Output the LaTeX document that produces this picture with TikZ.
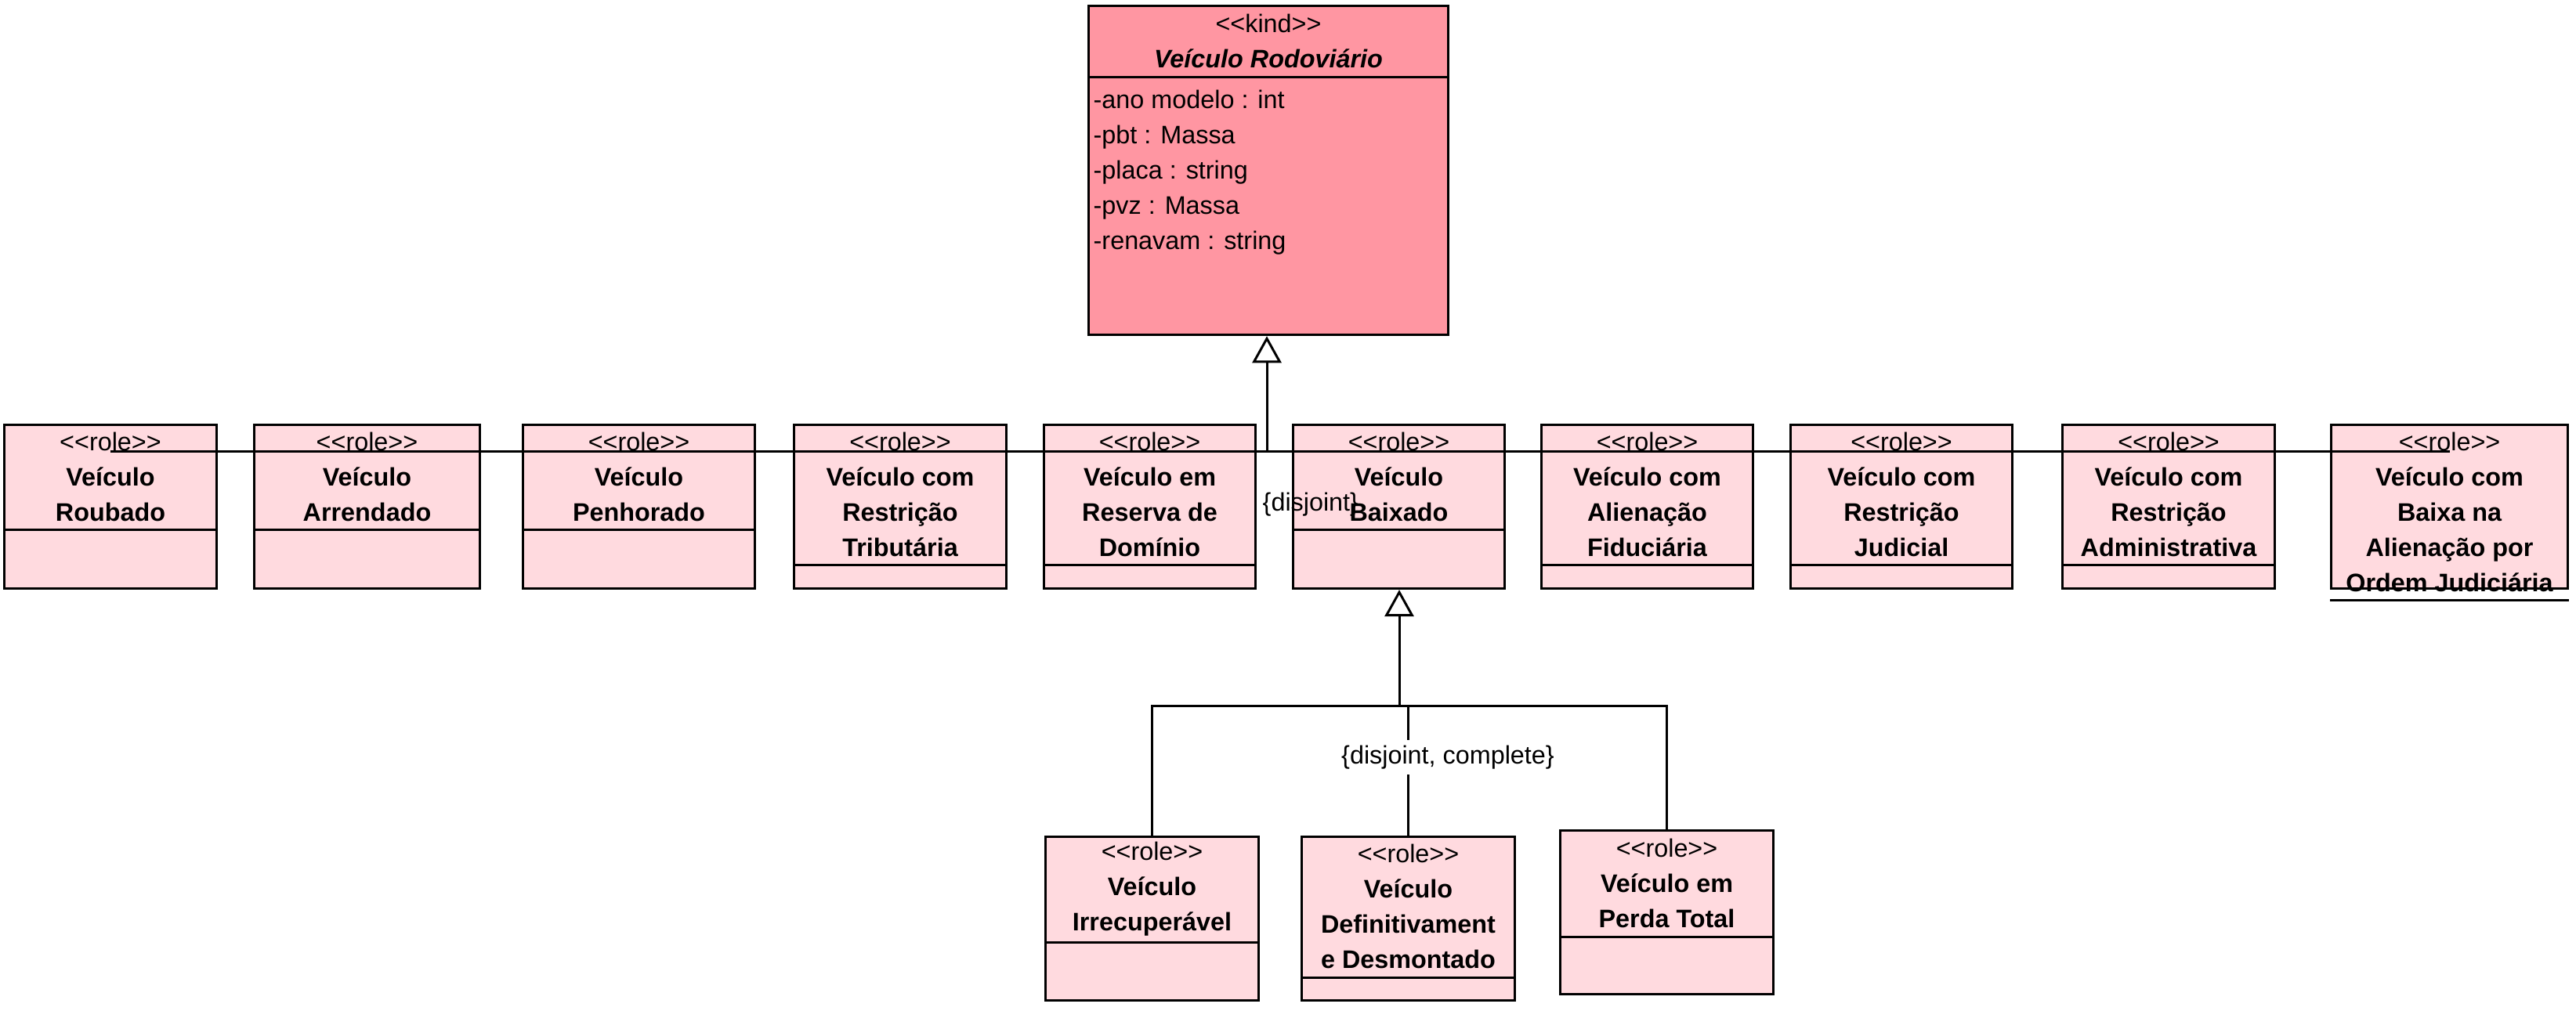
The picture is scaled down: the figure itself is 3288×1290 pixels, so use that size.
\documentclass[tikz,border=0pt]{standalone}
\usepackage{fontspec}
\setmainfont{Liberation Sans}
\usetikzlibrary{arrows.meta}

\definecolor{kindpink}{RGB}{255,150,162}
\definecolor{rolepink}{RGB}{255,218,223}

% stereotypes (kern keeps << >> from turning into guillemets)
\newcommand{\kindst}{<\kern0pt<kind>\kern0pt>}
\newcommand{\rolest}{\textmd{<\kern0pt<role>\kern0pt>}}

\tikzset{
  umltext/.style={font=\fontsize{9.2pt}{12.8pt}\selectfont, inner sep=0pt},
  umlline/.style={line width=0.85pt},
  kindbox/.style={draw, umlline, fill=kindpink, anchor=north, inner sep=0pt},
  rolebox/.style={draw, umlline, fill=rolepink, anchor=north, inner sep=0pt, minimum height=2.09cm},
  rolename/.style={umltext, font=\fontsize{9.2pt}{12.8pt}\selectfont\bfseries, anchor=north, align=center, minimum height=#1},
  gen/.style={umlline, line join=miter, -{Triangle[open, length=0.34cm, width=0.37cm]}}
}

\begin{document}
\begin{tikzpicture}[x=0.01cm, y=-0.01cm]

  \useasboundingbox (0,0) rectangle (3288,1290);

  % kind
  \node[kindbox, minimum width=4.58cm, minimum height=4.20cm] (kind) at (1619,6) {};
  \node[umltext, anchor=north, align=center, minimum height=0.91cm] (kindn) at (kind.north)
    {\kindst\\\textbf{\textit{Veículo Rodoviário}}};
  \draw[umlline] (kind.west |- kindn.south) -- (kind.east |- kindn.south);
  \node[umltext, anchor=west, align=left] (kinda) at (1395,220)
    {-ano modelo : int\\-pbt : Massa\\-placa : string\\-pvz : Massa\\-renavam : string};

  % roles, upper row
  \node[rolebox, minimum width=2.70cm] (r1) at (141,541) {};
  \node[rolename=1.34cm] (r1n) at (r1.north) {\rolest\\Veículo\\Roubado};
  \draw[umlline] (r1.west |- r1n.south) -- (r1.east |- r1n.south);

  \node[rolebox, minimum width=2.87cm] (r2) at (468.5,541) {};
  \node[rolename=1.34cm] (r2n) at (r2.north) {\rolest\\Veículo\\Arrendado};
  \draw[umlline] (r2.west |- r2n.south) -- (r2.east |- r2n.south);

  \node[rolebox, minimum width=2.95cm] (r3) at (815.5,541) {};
  \node[rolename=1.34cm] (r3n) at (r3.north) {\rolest\\Veículo\\Penhorado};
  \draw[umlline] (r3.west |- r3n.south) -- (r3.east |- r3n.south);

  \node[rolebox, minimum width=2.70cm] (r4) at (1149,541) {};
  \node[rolename=1.79cm] (r4n) at (r4.north) {\rolest\\Veículo com\\Restrição\\Tributária};
  \draw[umlline] (r4.west |- r4n.south) -- (r4.east |- r4n.south);

  \node[rolebox, minimum width=2.69cm] (r5) at (1467.5,541) {};
  \node[rolename=1.79cm] (r5n) at (r5.north) {\rolest\\Veículo em\\Reserva de\\Domínio};
  \draw[umlline] (r5.west |- r5n.south) -- (r5.east |- r5n.south);

  \node[rolebox, minimum width=2.69cm] (r6) at (1785.5,541) {};
  \node[rolename=1.34cm] (r6n) at (r6.north) {\rolest\\Veículo\\Baixado};
  \draw[umlline] (r6.west |- r6n.south) -- (r6.east |- r6n.south);

  \node[rolebox, minimum width=2.69cm] (r7) at (2102.5,541) {};
  \node[rolename=1.79cm] (r7n) at (r7.north) {\rolest\\Veículo com\\Alienação\\Fiduciária};
  \draw[umlline] (r7.west |- r7n.south) -- (r7.east |- r7n.south);

  \node[rolebox, minimum width=2.82cm] (r8) at (2427,541) {};
  \node[rolename=1.79cm] (r8n) at (r8.north) {\rolest\\Veículo com\\Restrição\\Judicial};
  \draw[umlline] (r8.west |- r8n.south) -- (r8.east |- r8n.south);

  \node[rolebox, minimum width=2.70cm] (r9) at (2768,541) {};
  \node[rolename=1.79cm] (r9n) at (r9.north) {\rolest\\Veículo com\\Restrição\\Administrativa};
  \draw[umlline] (r9.west |- r9n.south) -- (r9.east |- r9n.south);

  \node[rolebox, minimum width=3.01cm] (r10) at (3126.5,541) {};
  \node[rolename=2.24cm] (r10n) at (r10.north) {\rolest\\Veículo com\\Baixa na\\Alienação por\\Ordem Judiciária};
  \draw[umlline] (r10.west |- r10n.south) -- (r10.east |- r10n.south);

  % roles, lower row
  \node[rolebox, minimum width=2.71cm] (b1) at (1470.5,1067) {};
  \node[rolename=1.35cm] (b1n) at (b1.north) {\rolest\\Veículo\\Irrecuperável};
  \draw[umlline] (b1.west |- b1n.south) -- (b1.east |- b1n.south);

  \node[rolebox, minimum width=2.71cm] (b2) at (1797.5,1067) {};
  \node[rolename=1.80cm] (b2n) at (b2.north) {\rolest\\Veículo\\Definitivament\\e Desmontado};
  \draw[umlline] (b2.west |- b2n.south) -- (b2.east |- b2n.south);

  \node[rolebox, minimum width=2.71cm] (b3) at (2127.5,1059) {};
  \node[rolename=1.36cm] (b3n) at (b3.north) {\rolest\\Veículo em\\Perda Total};
  \draw[umlline] (b3.west |- b3n.south) -- (b3.east |- b3n.south);

  % generalization to kind
  \coordinate (bus) at (1617,576);
  \draw[umlline] (r1 |- bus) -- (r10 |- bus);
  \draw[gen] (bus) -- (bus |- kind.south);
  \node[umltext, anchor=west] (dj) at (1611,644) {\{disjoint\}};

  % generalization to Veiculo Baixado
  \coordinate (bus2) at (1786,901);
  \draw[gen] (bus2) -- (bus2 |- r6.south);
  \draw[umlline] (b1.north) -- (b1 |- bus2) -- (b3 |- bus2) -- (b3.north);
  \draw[umlline] (b2 |- bus2) -- (b2.north);
  \node[umltext, fill=white, inner xsep=1pt, inner ysep=2pt] (djc) at (1848,967) {\{disjoint, complete\}};

\end{tikzpicture}
\end{document}
